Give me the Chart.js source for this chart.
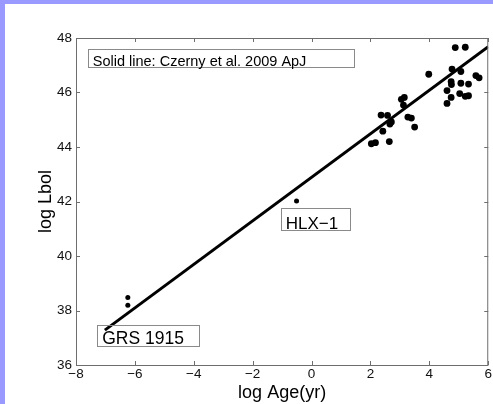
<!DOCTYPE html>
<html>
<head>
<meta charset="utf-8">
<script src="https://cdn.jsdelivr.net/npm/chart.js@4.4.1/dist/chart.umd.min.js"></script>
<style>
  html, body { margin: 0; padding: 0; background: #fff; }
  #wrap { position: absolute; left: 0; top: 0; width: 488px; height: 400px;
          border-left: 5px solid #9999ff; border-top: 4px solid #9999ff; background: #fff; }
  canvas { display: block; }
</style>
</head>
<body>
<div id="wrap"><canvas id="c" width="488" height="400"></canvas></div>
<script>
// ─── values ─────────────────────────────────────────────────────────────────
// X-ray binaries (GRS 1915 pair, HLX-1)
const xrbAge  = [-6.24, -6.24, -0.51];
const xrbLbol = [38.48, 38.19, 42.02];

// AGN cluster, log Age(yr) / log Lbol
const agnAge  = [2.03, 2.17, 2.36, 2.58, 2.42, 2.64, 2.71, 2.66, 3.05, 3.15, 3.12, 3.27, 3.39, 3.50,
                 3.98, 4.60, 4.60, 4.74, 4.74, 4.75, 4.77, 4.88, 5.22, 5.07, 5.07, 5.33, 5.03, 5.22,
                 5.33, 5.58, 5.69];
const agnLbol = [44.12, 44.16, 45.17, 45.16, 44.58, 44.20, 44.92, 44.84, 45.75, 45.82, 45.54, 45.10, 45.06, 44.73,
                 46.67, 46.07, 45.60, 45.82, 46.40, 46.29, 46.86, 47.65, 47.66, 46.77, 46.34, 46.31, 45.96, 45.86,
                 45.88, 46.62, 46.54];

// Czerny et al. 2009 relation (end points)
const fitAge  = [-7.02, 6];
const fitLbol = [37.28, 47.68];

const xTicks = [-8, -6, -4, -2, 0, 2, 4, 6];
const yTicks = [36, 38, 40, 42, 44, 46, 48];

// boxed notes, corners in data units
const noteText = ['Solid line: Czerny et al. 2009 ApJ', 'GRS 1915', 'HLX\u22121'];
const noteBox  = [[-7.60, 47.58, 1.42, 46.91], [-7.28, 37.46, -3.82, 36.70], [-1.05, 41.75, 1.31, 40.95]];
const noteSize = [14.5, 17.5, 17];

const FONT = '"Liberation Sans", Arial, Helvetica, sans-serif';
const pts = (xs, ys) => xs.map((x, i) => ({ x, y: ys[i] }));

// Matlab style box with inward ticks on all four sides
const frame = {
  id: 'frame',
  afterDatasetsDraw(chart) {
    const { ctx, chartArea: a, scales: { x, y } } = chart;
    ctx.save();
    ctx.strokeStyle = '#6e6e6e';
    ctx.lineWidth = 1;
    ctx.beginPath();
    xTicks.forEach(v => {
      const px = Math.round(x.getPixelForValue(v)) + 0.5;
      ctx.moveTo(px, a.bottom); ctx.lineTo(px, a.bottom - 4);
      ctx.moveTo(px, a.top);    ctx.lineTo(px, a.top + 4);
    });
    yTicks.forEach(v => {
      const py = Math.round(y.getPixelForValue(v)) + 0.5;
      ctx.moveTo(a.left, py);  ctx.lineTo(a.left + 4, py);
      ctx.moveTo(a.right, py); ctx.lineTo(a.right - 4, py);
    });
    ctx.stroke();
    ctx.strokeRect(a.left + 0.5, a.top + 0.5, a.right - a.left - 1, a.bottom - a.top);
    ctx.restore();
  }
};

const notes = {
  id: 'notes',
  afterDraw(chart) {
    const { ctx, scales: { x, y } } = chart;
    ctx.save();
    noteText.forEach((t, i) => {
      const [x1, y1, x2, y2] = noteBox[i];
      const l = x.getPixelForValue(x1), r = x.getPixelForValue(x2);
      const tp = y.getPixelForValue(y1), b = y.getPixelForValue(y2);
      ctx.strokeStyle = '#8a8a8a';
      ctx.lineWidth = 1;
      ctx.strokeRect(Math.round(l) + 0.5, Math.round(tp) + 0.5, Math.round(r - l), Math.round(b - tp));
      ctx.fillStyle = '#000';
      ctx.font = noteSize[i] + 'px ' + FONT;
      ctx.textBaseline = 'alphabetic';
      ctx.fillText(t, l + 5, b - 1.5);
    });
    ctx.restore();
  }
};

new Chart(document.getElementById('c'), {
  type: 'scatter',
  data: {
    datasets: [
      {
        type: 'line',
        data: pts(fitAge, fitLbol),
        borderColor: '#000',
        borderWidth: 3,
        pointRadius: 0,
        fill: false,
      },
      {
        data: pts(agnAge, agnLbol),
        backgroundColor: '#000',
        borderWidth: 0,
        pointRadius: 3.4,
      },
      {
        data: pts(xrbAge, xrbLbol),
        backgroundColor: '#000',
        borderWidth: 0,
        pointRadius: 2.5,
      }
    ]
  },
  options: {
    responsive: false,
    animation: false,
    layout: { padding: { left: 0, top: 34, right: 4, bottom: 0 } },
    plugins: { legend: { display: false }, tooltip: { enabled: false } },
    scales: {
      x: {
        type: 'linear',
        min: -8, max: 6,
        afterBuildTicks: s => { s.ticks = xTicks.map(v => ({ value: v })); },
        afterFit: s => { s.height = 39; },
        grid: { display: false, drawTicks: false },
        border: { display: false },
        ticks: {
          padding: 1,
          color: '#111',
          font: { family: FONT, size: 13.5 },
          callback: v => v < 0 ? '\u2212' + Math.abs(v) : String(v)
        },
        title: { display: true, text: 'log Age(yr)', color: '#000',
                 font: { family: FONT, size: 18 }, padding: { top: 0, bottom: 0 } }
      },
      y: {
        type: 'linear',
        min: 36, max: 48,
        afterBuildTicks: s => { s.ticks = yTicks.map(v => ({ value: v })); },
        afterFit: s => { s.width = 71; },
        grid: { display: false, drawTicks: false },
        border: { display: false },
        ticks: {
          padding: 4,
          color: '#111',
          font: { family: FONT, size: 13.5 }
        },
        title: { display: true, text: 'log Lbol', color: '#000',
                 font: { family: FONT, size: 18 }, padding: { top: 30, bottom: 0 } }
      }
    }
  },
  plugins: [frame, notes]
});
</script>
</body>
</html>
